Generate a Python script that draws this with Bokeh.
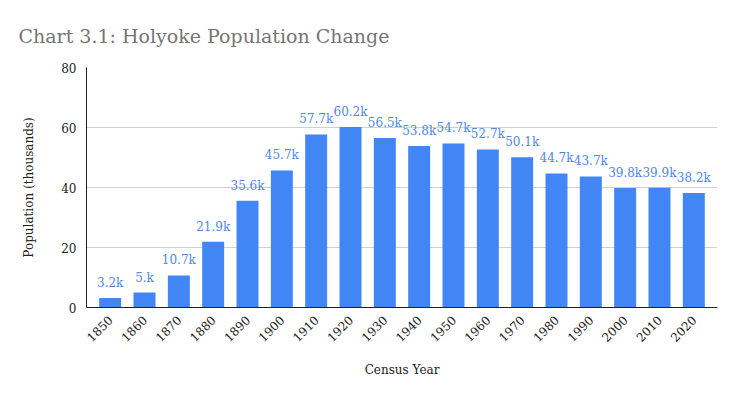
from bokeh.plotting import figure
from bokeh.models import Range1d, FixedTicker, ColumnDataSource
from bokeh.core.properties import value
from bokeh.embed import file_html
from bokeh.resources import INLINE

title_text = "Chart 3.1: Holyoke Population Change"
years = ["1850", "1860", "1870", "1880", "1890", "1900", "1910", "1920", "1930",
         "1940", "1950", "1960", "1970", "1980", "1990", "2000", "2010", "2020"]
population = [3.2, 5.0, 10.7, 21.9, 35.6, 45.7, 57.7, 60.2, 56.5,
              53.8, 54.7, 52.7, 50.1, 44.7, 43.7, 39.8, 39.9, 38.2]
labels = ["3.2k", "5.k", "10.7k", "21.9k", "35.6k", "45.7k", "57.7k", "60.2k", "56.5k",
          "53.8k", "54.7k", "52.7k", "50.1k", "44.7k", "43.7k", "39.8k", "39.9k", "38.2k"]
y_ticks = [0, 20, 40, 60, 80]

FONT = "DejaVu Serif"
idx = list(range(len(years)))
src = ColumnDataSource(dict(x=idx, top=population, label=labels))

p = figure(width=721, height=381, output_backend="svg", toolbar_location=None,
           x_range=Range1d(-0.69, len(years) - 1 + 0.69), y_range=Range1d(0, 80),
           min_border_left=86, min_border_right=4, min_border_top=67, min_border_bottom=74,
           title=title_text)

p.title.text_font = FONT
p.title.text_font_size = "19px"
p.title.text_font_style = "normal"
p.title.text_color = "#757575"
p.title.align = "left"
p.title.offset = -68
p.title.standoff = 41

p.outline_line_color = None
p.background_fill_color = "white"
p.border_fill_color = "white"

p.vbar(x="x", top="top", width=0.64, source=src, color="#4285f4", line_color=None)
p.text(x="x", y="top", text="label", source=src, text_align="center",
       text_baseline="alphabetic", y_offset=-15, text_font_size="12px",
       text_color="#4f87e6", text_font=value(FONT))

p.xaxis.ticker = FixedTicker(ticks=idx)
p.xaxis.major_label_overrides = {i: y for i, y in zip(idx, years)}
p.xaxis.major_label_orientation = 0.785398
p.xaxis.axis_label = "Census Year"
p.yaxis.ticker = FixedTicker(ticks=y_ticks)
p.yaxis.axis_label = "Population (thousands)"

for ax in (p.xaxis, p.yaxis):
    ax.axis_line_color = "#222222"
    ax.axis_line_width = 1
    ax.major_tick_line_color = None
    ax.major_tick_out = 0
    ax.major_tick_in = 0
    ax.minor_tick_line_color = None
    ax.minor_tick_out = 0
    ax.major_label_text_font = FONT
    ax.major_label_text_font_size = "12px"
    ax.major_label_text_color = "#222222"
    ax.axis_label_text_font = FONT
    ax.axis_label_text_font_size = "12px"
    ax.axis_label_text_font_style = "normal"
    ax.axis_label_text_color = "#222222"

p.xaxis.major_label_standoff = 10
p.xaxis.axis_label_standoff = 14
p.yaxis.major_label_standoff = 10
p.yaxis.axis_label_standoff = 22

p.xgrid.grid_line_color = None
p.ygrid.grid_line_color = "#d0d0d0"
p.ygrid.grid_line_width = 1

open("out.html", "w").write(file_html(p, INLINE))
